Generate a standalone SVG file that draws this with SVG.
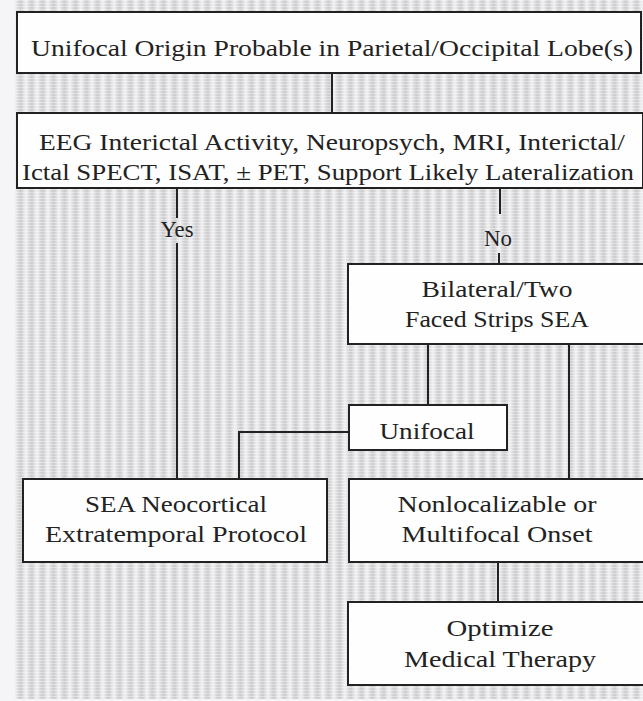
<svg xmlns="http://www.w3.org/2000/svg" width="643" height="701" viewBox="0 0 643 701">
<defs>
<linearGradient id="band" x1="0" y1="0" x2="1" y2="0">
<stop offset="0" stop-color="#f1f1f3"/>
<stop offset="0.35" stop-color="#d4d4d6"/>
<stop offset="0.55" stop-color="#cbcbcd"/>
<stop offset="0.8" stop-color="#e2e2e4"/>
<stop offset="1" stop-color="#f1f1f3"/>
</linearGradient>
<pattern id="screen" x="15" y="0" width="11" height="3" patternUnits="userSpaceOnUse">
<rect width="11" height="3" fill="url(#band)"/>
<rect y="0" width="11" height="1" fill="#ffffff" opacity="0.35"/>
</pattern>
<style>
.box{fill:#fefefe;stroke:#222;stroke-width:2}
.t{font-family:"Liberation Serif","Times New Roman",serif;font-size:24px;fill:#222;text-anchor:middle}
.lbl{font-family:"Liberation Serif","Times New Roman",serif;font-size:23px;fill:#222;text-anchor:middle}
.ln{fill:none;stroke:#222;stroke-width:2}
</style>
</defs>
<rect width="643" height="701" fill="#f5f5f7"/>
<rect x="15" y="0" width="628" height="699" fill="url(#screen)"/>
<g id="connectors">
<path class="ln" d="M332,73 V113"/>
<path class="ln" d="M177,188 V218 M177,243 V479"/>
<path class="ln" d="M500,188 V214 M499,253 V264"/>
<path class="ln" d="M428,344 V405"/>
<path class="ln" d="M569,344 V479"/>
<path class="ln" d="M349,432 H239 V479"/>
<path class="ln" d="M498,562 V602"/>
<text class="lbl" x="177" y="237" textLength="33" lengthAdjust="spacingAndGlyphs">Yes</text>
<text class="lbl" x="498" y="246" textLength="28" lengthAdjust="spacingAndGlyphs">No</text>
</g>
<g id="n1">
<rect class="box" x="17" y="12" width="624" height="61"/>
<text class="t" x="332" y="56" textLength="602" lengthAdjust="spacingAndGlyphs">Unifocal Origin Probable in Parietal/Occipital Lobe(s)</text>
</g>
<g id="n2">
<rect class="box" x="17" y="113" width="626" height="75"/>
<text class="t" x="332" y="150" textLength="586" lengthAdjust="spacingAndGlyphs">EEG Interictal Activity, Neuropsych, MRI, Interictal/</text>
<text class="t" x="328" y="180" textLength="612" lengthAdjust="spacingAndGlyphs">Ictal SPECT, ISAT, ± PET, Support Likely Lateralization</text>
</g>
<g id="n3">
<rect class="box" x="348" y="264" width="300" height="80"/>
<text class="t" x="497" y="297" textLength="151" lengthAdjust="spacingAndGlyphs">Bilateral/Two</text>
<text class="t" x="497" y="327" textLength="184" lengthAdjust="spacingAndGlyphs">Faced Strips SEA</text>
</g>
<g id="n4">
<rect class="box" x="349" y="405" width="158" height="45"/>
<text class="t" x="427" y="439" textLength="95" lengthAdjust="spacingAndGlyphs">Unifocal</text>
</g>
<g id="n5">
<rect class="box" x="23" y="479" width="304" height="83"/>
<text class="t" x="176" y="512" textLength="182" lengthAdjust="spacingAndGlyphs">SEA Neocortical</text>
<text class="t" x="176" y="542" textLength="262" lengthAdjust="spacingAndGlyphs">Extratemporal Protocol</text>
</g>
<g id="n6">
<rect class="box" x="349" y="479" width="300" height="83"/>
<text class="t" x="497" y="512" textLength="199" lengthAdjust="spacingAndGlyphs">Nonlocalizable or</text>
<text class="t" x="497" y="542" textLength="191" lengthAdjust="spacingAndGlyphs">Multifocal Onset</text>
</g>
<g id="n7">
<rect class="box" x="348" y="602" width="300" height="83"/>
<text class="t" x="500" y="636" textLength="107" lengthAdjust="spacingAndGlyphs">Optimize</text>
<text class="t" x="500" y="667" textLength="192" lengthAdjust="spacingAndGlyphs">Medical Therapy</text>
</g>
</svg>
